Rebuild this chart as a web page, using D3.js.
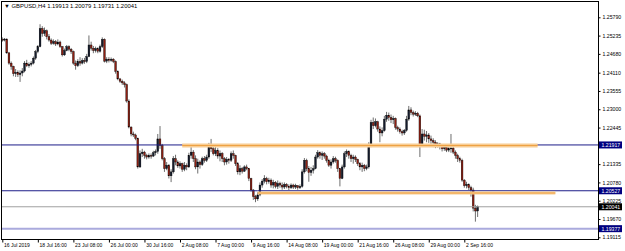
<!DOCTYPE html>
<html lang="en">
<head>
<meta charset="UTF-8">
<title>GBPUSD,H4</title>
<script src="https://cdn.jsdelivr.net/npm/d3@7"></script>
<style>
  body { margin: 0; background: #fff; }
  text { font-family: "Liberation Sans", Arial, sans-serif; }
</style>
</head>
<body>
<svg id="chart" width="625" height="251"></svg>
<script>
const symbol = "GBPUSD,H4";

// H4 bars, 16 Jul 2019 00:00 .. 3 Sep 2019 16:00
const opens = [
1.2512,1.2510,1.2513,1.2471,1.2440,1.2430,1.2408,1.2412,1.2405,1.2410,
1.2416,1.2440,1.2432,1.2436,1.2440,1.2455,1.2475,1.2490,1.2545,1.2530,
1.2538,1.2520,1.2510,1.2500,1.2505,1.2498,1.2504,1.2490,1.2465,1.2478,
1.2490,1.2482,1.2475,1.2440,1.2432,1.2445,1.2440,1.2448,1.2445,1.2460,
1.2495,1.2485,1.2478,1.2484,1.2476,1.2490,1.2512,1.2446,1.2452,1.2448,
1.2452,1.2445,1.2415,1.2392,1.2385,1.2380,1.2375,1.2325,1.2246,1.2225,
1.2222,1.2212,1.2125,1.2165,1.2170,1.2160,1.2155,1.2160,1.2158,1.2168,
1.2172,1.2210,1.2190,1.2150,1.2120,1.2130,1.2098,1.2110,1.2150,1.2140,
1.2128,1.2135,1.2118,1.2130,1.2125,1.2160,1.2170,1.2150,1.2125,1.2140,
1.2132,1.2150,1.2145,1.2155,1.2185,1.2180,1.2165,1.2175,1.2158,1.2166,
1.2150,1.2140,1.2148,1.2145,1.2165,1.2160,1.2135,1.2110,1.2120,1.2112,
1.2125,1.2120,1.2090,1.2055,1.2035,1.2028,1.2040,1.2070,1.2082,1.2090,
1.2080,1.2085,1.2070,1.2078,1.2066,1.2075,1.2070,1.2064,1.2072,1.2066,
1.2062,1.2070,1.2064,1.2068,1.2062,1.2066,1.2110,1.2145,1.2120,1.2108,
1.2115,1.2120,1.2155,1.2168,1.2160,1.2165,1.2158,1.2145,1.2130,1.2140,
1.2150,1.2145,1.2120,1.2090,1.2125,1.2165,1.2172,1.2160,1.2150,1.2155,
1.2148,1.2135,1.2125,1.2130,1.2120,1.2125,1.2190,1.2260,1.2250,1.2262,
1.2240,1.2228,1.2235,1.2270,1.2282,1.2275,1.2268,1.2272,1.2245,1.2240,
1.2232,1.2228,1.2236,1.2270,1.2298,1.2290,1.2285,1.2288,1.2280,1.2192,
1.2225,1.2218,1.2222,1.2210,1.2205,1.2200,1.2190,1.2195,1.2186,1.2180,
1.2184,1.2176,1.2180,1.2182,1.2170,1.2160,1.2150,1.2145,1.2085,1.2068,
1.2072,1.2062,1.2055,1.2000,1.19913
];
const highs = [
1.2518,1.2516,1.2515,1.2474,1.2445,1.2432,1.2422,1.2418,1.2418,1.2425,
1.2446,1.2450,1.2442,1.2446,1.2460,1.2480,1.2495,1.2558,1.2552,1.2548,
1.2542,1.2528,1.2515,1.2512,1.2510,1.2512,1.2508,1.2492,1.2484,1.2495,
1.2494,1.2486,1.2478,1.2448,1.2452,1.2458,1.2455,1.2456,1.2468,1.2524,
1.2505,1.2492,1.2490,1.2488,1.2496,1.2518,1.2515,1.2458,1.2458,1.2457,
1.2455,1.2448,1.2418,1.2395,1.2390,1.2385,1.2378,1.2330,1.2248,1.2232,
1.2226,1.2214,1.2175,1.2180,1.2174,1.2165,1.2166,1.2166,1.2174,1.2178,
1.2225,1.2249,1.2195,1.2155,1.2140,1.2134,1.2118,1.2158,1.2162,1.2145,
1.2142,1.2138,1.2140,1.2136,1.2168,1.2185,1.2176,1.2160,1.2150,1.2145,
1.2156,1.2158,1.2162,1.2198,1.2210,1.2190,1.2185,1.2182,1.2175,1.2170,
1.2155,1.2155,1.2152,1.2172,1.2175,1.2162,1.2140,1.2130,1.2125,1.2130,
1.2132,1.2122,1.2092,1.2058,1.2040,1.2048,1.2078,1.2088,1.2100,1.2095,
1.2092,1.2090,1.2086,1.2082,1.2084,1.2080,1.2078,1.2078,1.2076,1.2072,
1.2075,1.2074,1.2074,1.2070,1.2072,1.2118,1.2152,1.2150,1.2128,1.2125,
1.2130,1.2162,1.2176,1.2172,1.2172,1.2170,1.2162,1.2150,1.2148,1.2158,
1.2156,1.2148,1.2122,1.2132,1.2172,1.2178,1.2175,1.2165,1.2162,1.2160,
1.2150,1.2140,1.2138,1.2134,1.2132,1.2200,1.2268,1.2275,1.2272,1.2265,
1.2248,1.2245,1.2280,1.2292,1.2290,1.2284,1.2280,1.2275,1.2250,1.2245,
1.2238,1.2240,1.2280,1.2310,1.2306,1.2296,1.2294,1.2292,1.2284,1.2240,
1.2238,1.2234,1.2228,1.2220,1.2212,1.2206,1.2200,1.2198,1.2192,1.2190,
1.2188,1.2186,1.2225,1.2186,1.2175,1.2165,1.2156,1.2150,1.2088,1.2080,
1.2075,1.2068,1.2062,1.2010,1.20079
];
const lows = [
1.2505,1.2506,1.2468,1.2435,1.2420,1.2400,1.2398,1.2398,1.2383,1.2400,
1.2412,1.2428,1.2426,1.2430,1.2436,1.2450,1.2470,1.2488,1.2520,1.2522,
1.2512,1.2505,1.2495,1.2496,1.2492,1.2494,1.2486,1.2460,1.2462,1.2476,
1.2476,1.2468,1.2435,1.2420,1.2428,1.2432,1.2436,1.2438,1.2440,1.2458,
1.2478,1.2470,1.2472,1.2470,1.2472,1.2486,1.2442,1.2440,1.2442,1.2444,
1.2440,1.2408,1.2388,1.2380,1.2374,1.2366,1.2320,1.2242,1.2218,1.2216,
1.2206,1.2120,1.2122,1.2155,1.2150,1.2148,1.2150,1.2150,1.2155,1.2160,
1.2165,1.2180,1.2145,1.2110,1.2115,1.2090,1.2079,1.2105,1.2130,1.2122,
1.2120,1.2110,1.2112,1.2115,1.2122,1.2150,1.2140,1.2118,1.2105,1.2120,
1.2128,1.2138,1.2140,1.2150,1.2170,1.2160,1.2158,1.2150,1.2142,1.2140,
1.2130,1.2132,1.2135,1.2140,1.2150,1.2128,1.2102,1.2100,1.2105,1.2110,
1.2115,1.2082,1.2050,1.2025,1.2018,1.2022,1.2036,1.2062,1.2075,1.2072,
1.2074,1.2062,1.2060,1.2060,1.2058,1.2062,1.2056,1.2058,1.2060,1.2055,
1.2058,1.2058,1.2058,1.2056,1.2058,1.2062,1.2105,1.2112,1.2080,1.2098,
1.2105,1.2118,1.2150,1.2150,1.2146,1.2150,1.2138,1.2125,1.2120,1.2135,
1.2138,1.2110,1.2066,1.2088,1.2120,1.2155,1.2150,1.2140,1.2135,1.2140,
1.2128,1.2115,1.2110,1.2112,1.2115,1.2120,1.2185,1.2240,1.2245,1.2232,
1.2200,1.2218,1.2232,1.2262,1.2265,1.2258,1.2255,1.2238,1.2232,1.2226,
1.2220,1.2222,1.2232,1.2265,1.2282,1.2278,1.2280,1.2276,1.2155,1.2188,
1.2205,1.2200,1.2198,1.2195,1.2185,1.2182,1.2184,1.2178,1.2172,1.2174,
1.2170,1.2170,1.2168,1.2164,1.2150,1.2140,1.2138,1.2080,1.2062,1.2060,
1.2055,1.2035,1.1990,1.1959,1.19731
];
const closes = [
1.2510,1.2513,1.2471,1.2440,1.2430,1.2408,1.2412,1.2405,1.2410,1.2416,
1.2440,1.2432,1.2436,1.2440,1.2455,1.2475,1.2490,1.2545,1.2530,1.2538,
1.2520,1.2510,1.2500,1.2505,1.2498,1.2504,1.2490,1.2465,1.2478,1.2490,
1.2482,1.2475,1.2440,1.2432,1.2445,1.2440,1.2448,1.2445,1.2460,1.2495,
1.2485,1.2478,1.2484,1.2476,1.2490,1.2512,1.2446,1.2452,1.2448,1.2452,
1.2445,1.2415,1.2392,1.2385,1.2380,1.2375,1.2325,1.2246,1.2225,1.2222,
1.2212,1.2125,1.2165,1.2170,1.2160,1.2155,1.2160,1.2158,1.2168,1.2172,
1.2210,1.2190,1.2150,1.2120,1.2130,1.2098,1.2110,1.2150,1.2140,1.2128,
1.2135,1.2118,1.2130,1.2125,1.2160,1.2170,1.2150,1.2125,1.2140,1.2132,
1.2150,1.2145,1.2155,1.2185,1.2180,1.2165,1.2175,1.2158,1.2166,1.2150,
1.2140,1.2148,1.2145,1.2165,1.2160,1.2135,1.2110,1.2120,1.2112,1.2125,
1.2120,1.2090,1.2055,1.2035,1.2028,1.2040,1.2070,1.2082,1.2090,1.2080,
1.2085,1.2070,1.2078,1.2066,1.2075,1.2070,1.2064,1.2072,1.2066,1.2062,
1.2070,1.2064,1.2068,1.2062,1.2066,1.2110,1.2145,1.2120,1.2108,1.2115,
1.2120,1.2155,1.2168,1.2160,1.2165,1.2158,1.2145,1.2130,1.2140,1.2150,
1.2145,1.2120,1.2090,1.2125,1.2165,1.2172,1.2160,1.2150,1.2155,1.2148,
1.2135,1.2125,1.2130,1.2120,1.2125,1.2190,1.2260,1.2250,1.2262,1.2240,
1.2228,1.2235,1.2270,1.2282,1.2275,1.2268,1.2272,1.2245,1.2240,1.2232,
1.2228,1.2236,1.2270,1.2298,1.2290,1.2285,1.2288,1.2280,1.2192,1.2225,
1.2218,1.2222,1.2210,1.2205,1.2200,1.2190,1.2195,1.2186,1.2180,1.2184,
1.2176,1.2180,1.2182,1.2170,1.2160,1.2150,1.2145,1.2085,1.2068,1.2072,
1.2062,1.2055,1.2000,1.19913,1.20041
];

// time axis: bar index of each label, and its text
const timeTickBars = [0, 16, 32, 48, 64, 80, 96, 112, 128, 144, 160, 176, 192, 208];
const timeTickLabels = ["16 Jul 2019", "18 Jul 16:00", "23 Jul 08:00", "26 Jul 00:00", "30 Jul 16:00",
  "2 Aug 08:00", "7 Aug 00:00", "9 Aug 16:00", "14 Aug 08:00", "19 Aug 00:00",
  "21 Aug 16:00", "26 Aug 08:00", "29 Aug 00:00", "2 Sep 16:00"];

// price axis grid values
const priceTicks = [1.25790, 1.25235, 1.24680, 1.24110, 1.23555, 1.23000, 1.22445,
  1.21890, 1.21335, 1.20780, 1.20225, 1.19670, 1.19115];

// horizontal levels drawn across the chart
const levelPrices = [1.21917, 1.20527, 1.20041, 1.19377];
const levelKinds = ["hline", "hline", "bid", "ask"];

// orange support/resistance zones: start bar, end bar, price
const zoneStart = [81, 115];
const zoneEnd = [241, 249];
const zonePrice = [1.21900, 1.20459];

let svg = d3.select("#chart");
const W = 625, H = 251;
const frameL = 1.5, frameR = 598.5, frameT = 1.5, frameB = 239.5;

svg.append("rect").attr("width", W).attr("height", H).attr("fill", "#fff");

let x = d3.scaleLinear().domain([0, 208]).range([2.3, 464.3]);
let y = d3.scaleLinear().domain([1.19115, 1.25790]).range([237.3, 17.3]);

let plot = svg.append("g");

// candles
let bars = d3.range(closes.length);
plot.selectAll("line.wick").data(bars).enter().append("line")
    .attr("class", "wick")
    .attr("x1", i => x(i)).attr("x2", i => x(i))
    .attr("y1", i => y(highs[i])).attr("y2", i => y(lows[i]))
    .attr("stroke", "#6e6e6e").attr("stroke-width", 1);

plot.selectAll("rect.body").data(bars).enter().append("rect")
    .attr("class", "body")
    .attr("x", i => x(i) - 0.9)
    .attr("width", 1.8)
    .attr("y", i => y(Math.max(opens[i], closes[i])))
    .attr("height", i => Math.max(0.8, Math.abs(y(opens[i]) - y(closes[i]))))
    .attr("fill", i => closes[i] >= opens[i] ? "#141b2c" : "#8e1f12")
    .attr("stroke", "#000")
    .attr("stroke-width", 0.35);

// levels
const levelStyle = {
    hline: { stroke: "#1c1c88", width: 1, box: "#000080" },
    bid: { stroke: "#a0a0a0", width: 1, box: "#000" },
    ask: { stroke: "#aaaadd", width: 2, box: "#000080" }
};
levelPrices.forEach((p, k) => {
    let st = levelStyle[levelKinds[k]];
    svg.append("line")
        .attr("x1", frameL).attr("x2", frameR)
        .attr("y1", y(p)).attr("y2", y(p))
        .attr("stroke", st.stroke).attr("stroke-width", st.width);
});

// zones
zonePrice.forEach((p, k) => {
    let x1 = x(zoneStart[k]), x2 = Math.min(x(zoneEnd[k]), frameR);
    svg.append("line")
        .attr("x1", x1).attr("x2", x2).attr("y1", y(p)).attr("y2", y(p))
        .attr("stroke", "#f8cc92").attr("stroke-width", k == 0 ? 4 : 3);
    svg.append("line")
        .attr("x1", x1).attr("x2", x2).attr("y1", y(p)).attr("y2", y(p))
        .attr("stroke", "#eea244").attr("stroke-width", 1);
});

// frame
svg.append("rect")
    .attr("x", frameL).attr("y", frameT)
    .attr("width", frameR - frameL).attr("height", frameB - frameT)
    .attr("fill", "none").attr("stroke", "#000").attr("stroke-width", 1);

// price axis
let yAxis = d3.axisRight(y).tickValues(priceTicks).tickFormat(d3.format(".5f")).tickSize(2).tickPadding(2);
let yg = svg.append("g").attr("transform", `translate(${frameR},0)`).call(yAxis);
yg.select(".domain").remove();
yg.selectAll("text").attr("font-size", 5.2).attr("fill", "#000").attr("font-family", "Liberation Sans, Arial");

// level price boxes
levelPrices.forEach((p, k) => {
    let st = levelStyle[levelKinds[k]];
    svg.append("rect")
        .attr("x", frameR + 0.5).attr("y", y(p) - 3.5)
        .attr("width", 23).attr("height", 7)
        .attr("fill", st.box);
    svg.append("text")
        .attr("x", frameR + 3).attr("y", y(p) + 1.9)
        .attr("font-size", 5.2).attr("fill", "#fff")
        .text(d3.format(".5f")(p));
});

// time axis
let xAxis = d3.axisBottom(x).tickValues(timeTickBars)
    .tickFormat((d, i) => timeTickLabels[i]).tickSize(3).tickPadding(1);
let xg = svg.append("g").attr("transform", `translate(0,${frameB})`).call(xAxis);
xg.select(".domain").remove();
xg.selectAll("text").attr("text-anchor", "start").attr("dx", 1.2)
    .attr("font-size", 5).attr("fill", "#000").attr("font-family", "Liberation Sans, Arial");

// title
let o = opens[opens.length - 1], h = highs[highs.length - 1],
    l = lows[lows.length - 1], c = closes[closes.length - 1];
svg.append("text").attr("x", 4).attr("y", 7.6).attr("font-size", 5.9)
    .text("\u25BC " + symbol + "  " + [o, h, l, c].map(d3.format(".5f")).join(" "));
</script>
</body>
</html>
